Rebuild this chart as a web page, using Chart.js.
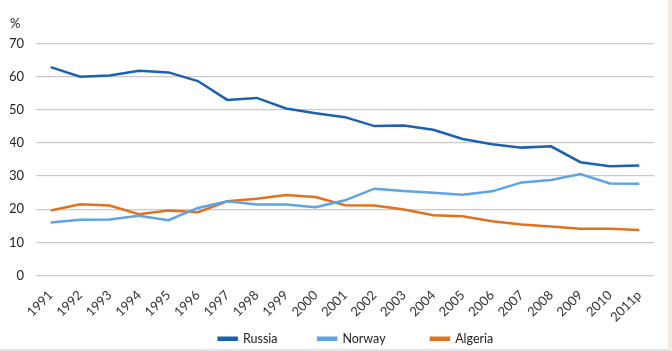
<!DOCTYPE html>
<html>
<head>
<meta charset="utf-8">
<script src="https://cdn.jsdelivr.net/npm/chart.js@4"></script>
<style>
  html, body { margin: 0; padding: 0; background: #f3e9dd; }
  #wrap { width: 668px; height: 349px; background: #fff; border-bottom: 2px solid #e4e4e4; }
</style>
</head>
<body>
<div id="wrap"><canvas id="shareChart" width="668" height="349"></canvas></div>
<script>
const years = ['1991', '1992', '1993', '1994', '1995', '1996', '1997', '1998', '1999', '2000',
    '2001', '2002', '2003', '2004', '2005', '2006', '2007', '2008', '2009', '2010', '2011p'];
const russia = [62.9, 60.0, 60.4, 61.8, 61.3, 58.7, 53.0, 53.6, 50.4, 49.0,
    47.8, 45.1, 45.3, 44.0, 41.2, 39.6, 38.6, 39.0, 34.2, 33.0, 33.2];
const norway = [16.0, 16.8, 16.9, 18.0, 16.7, 20.4, 22.4, 21.4, 21.4, 20.6,
    22.7, 26.2, 25.5, 25.0, 24.4, 25.4, 28.1, 28.8, 30.6, 27.8, 27.7];
const algeria = [19.6, 21.5, 21.1, 18.5, 19.6, 19.1, 22.4, 23.2, 24.3, 23.7,
    21.2, 21.1, 19.9, 18.2, 17.9, 16.4, 15.4, 14.8, 14.1, 14.1, 13.7];
const yTicks = [0, 10, 20, 30, 40, 50, 60, 70];
const legendGaps = ['\u2003\u2003\u2003\u2002\u2002', '\u2003\u2003\u2003\u2003\u2002\u2009', ''];

// nudge the legend row to sit under the middle of the plot
const legendShift = {
    id: 'legendShift',
    afterLayout: chart => {
        const lg = chart.legend;
        lg.left += 24;
        lg.right += 24;
        lg.top += 6;
        lg.bottom += 6;
    }
};

document.addEventListener('DOMContentLoaded', () => {
    const ctx = document.getElementById('shareChart').getContext('2d');
    const family = 'Lato, "Open Sans", sans-serif';
    const font = { family: family, size: 13 };

    new Chart(ctx, {
        type: 'line',
        data: {
            labels: years,
            datasets: [
                { label: 'Russia', data: russia, borderColor: '#1c61b1', backgroundColor: '#1c61b1' },
                { label: 'Norway', data: norway, borderColor: '#5ca4e4', backgroundColor: '#5ca4e4' },
                { label: 'Algeria', data: algeria, borderColor: '#e0711f', backgroundColor: '#e0711f' }
            ]
        },
        plugins: [legendShift],
        options: {
            responsive: false,
            animation: false,
            layout: { padding: { left: 10, right: 14, top: 8, bottom: 0 } },
            elements: {
                line: { borderWidth: 2.5, tension: 0 },
                point: { radius: 0 }
            },
            scales: {
                x: {
                    offset: true,
                    grid: { display: false },
                    border: { display: false },
                    ticks: { color: '#333', font: font, minRotation: 45, maxRotation: 45, padding: 4 },
                    afterFit: axis => { axis.paddingLeft = 0; axis.height = 51; }
                },
                y: {
                    min: 0,
                    max: 70,
                    afterBuildTicks: axis => { axis.ticks = yTicks.map(v => ({ value: v })); },
                    grid: { color: '#c9c9c9', lineWidth: 1.3, drawTicks: false },
                    border: { display: false },
                    ticks: { color: '#222', font: font, padding: 12 },
                    // chart.js reserves the tick padding twice; keep the label column tight
                    afterFit: axis => { axis.width = 26; }
                }
            },
            plugins: {
                title: {
                    display: true,
                    text: '%',
                    align: 'start',
                    color: '#222',
                    font: { family: family, size: 13, weight: 'normal' },
                    padding: { top: 8, bottom: 12 }
                },
                legend: {
                    position: 'bottom',
                    labels: {
                        color: '#222',
                        font: { family: family, size: 12.5 },
                        boxWidth: 18,
                        boxHeight: 2,
                        padding: 0,
                        generateLabels: chart => {
                            const items = Chart.defaults.plugins.legend.labels.generateLabels(chart);
                            items.forEach((it, i) => { it.text += legendGaps[i]; });
                            return items;
                        }
                    }
                },
                tooltip: { enabled: false }
            }
        }
    });
});
</script>
</body>
</html>
